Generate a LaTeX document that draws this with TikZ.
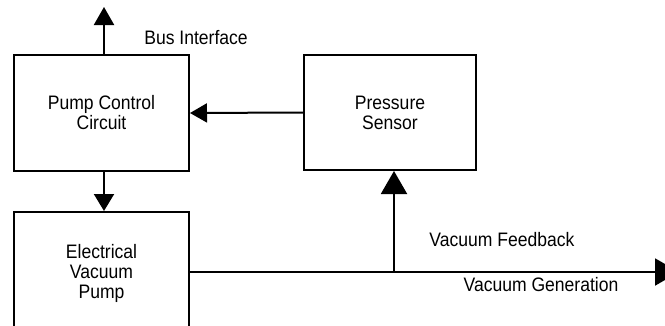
\documentclass[tikz,border=0pt]{standalone}
\usepackage{fontspec}
\setmainfont{Liberation Sans}[FakeStretch=0.9]
\usetikzlibrary{arrows.meta}
\begin{document}
\begin{tikzpicture}[x=1pt,y=-1pt,
  blk/.style={draw,line width=2pt,minimum width=175pt,inner sep=0pt,align=center,
    font=\fontsize{19.5}{20}\selectfont},
  lbl/.style={anchor=base,inner sep=0pt,font=\fontsize{19.5}{20}\selectfont},
  conn/.style={line width=2pt}]
\useasboundingbox (0,0) rectangle (665,325);
\clip (0,0) rectangle (665,325);
\node[blk,minimum height=116pt] (pcc) at (101.5,113) {Pump Control\\Circuit};
\node[blk,minimum width=172pt,minimum height=115pt] (ps) at (390,112.5) {Pressure\\Sensor};
\node[blk,minimum height=123pt] (vp) at (101.5,273.5) {Electrical\\Vacuum\\Pump};
\coordinate (busTip) at (104,7);
\coordinate (genEnd) at (679,272);
\coordinate (fb) at (394,272);
\draw[conn,-{Triangle[length=18pt,width=20pt]}] (pcc.north -| busTip) -- (busTip);
\draw[conn,-{Triangle[length=17pt,width=19pt]}] (ps.west) -- (pcc.east);
\draw[conn,-{Triangle[length=17pt,width=20pt]}] (pcc.south -| busTip) -- (vp.north -| busTip);
\draw[conn,-{Triangle[length=24pt,width=27pt]}] (vp.east |- genEnd) -- (genEnd);
\draw[conn,-{Triangle[length=23pt,width=26pt]}] (fb) -- (fb |- ps.south);
\node[lbl] (bus) at (196,44) {Bus Interface};
\node[lbl] (vfb) at (502,246.7) {Vacuum Feedback};
\node[lbl] (vgen) at (541,291.7) {Vacuum Generation};
\end{tikzpicture}
\end{document}
